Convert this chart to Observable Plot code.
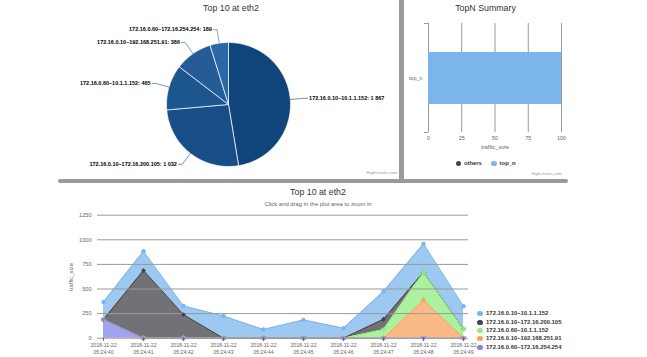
<!DOCTYPE html>
<html><head><meta charset="utf-8">
<script src="https://cdn.jsdelivr.net/npm/d3@7"></script>
<script src="https://cdn.jsdelivr.net/npm/@observablehq/plot@0.6"></script>
<style>
body{margin:0;background:#fff}
#root{position:relative;width:647px;height:357px;overflow:hidden;background:#fff;font-family:"Liberation Sans",Arial,sans-serif}
.abs{position:absolute;white-space:nowrap;line-height:1}
.bar{position:absolute;background:#9a9a9a}
.dot{display:inline-block;border-radius:50%;vertical-align:middle}
</style></head>
<body><div id="root"></div>
<script>
// ---------- data ----------
const seriesNames = ["172.16.0.10–10.1.1.152","172.16.0.10–172.16.200.105","172.16.0.60–10.1.1.152","172.16.0.10–192.168.251.91","172.16.0.60–172.16.254.254"];
const pieValues = [1867,1032,465,386,189];
const pieColors = ["#0f457b","#174e87","#1d558f","#235c98","#2b66a5"];
const seriesColors = ["#7cb5ec","#434348","#90ed7d","#f7a35c","#8085e9"];

const summaryCategories = ["top_n"];
const summaryValues = [100];
const summaryLegend = ["others","top_n"];
const summaryLegendColors = ["#434348","#7cb5ec"];
const summaryTicks = [0,25,50,75,100];

const times = ["2018-11-22 05:24:40","2018-11-22 05:24:41","2018-11-22 05:24:42","2018-11-22 05:24:43","2018-11-22 05:24:44","2018-11-22 05:24:45","2018-11-22 05:24:46","2018-11-22 05:24:47","2018-11-22 05:24:48","2018-11-22 05:24:49"];
const s1 = [180,195,88,225,88,186,102,283,288,232];
const s2 = [0,688,239,0,0,0,0,105,0,0];
const s3 = [0,0,0,0,0,0,0,87,285,93];
const s4 = [0,0,0,0,0,0,0,0,386,0];
const s5 = [189,0,0,0,0,0,0,0,0,0];
const yTicks = [0,250,500,750,1000,1250];

const pieTitle = "Top 10 at eth2";
const summaryTitle = "TopN Summary";
const areaTitle = "Top 10 at eth2";
const areaSubtitle = "Click and drag in the plot area to zoom in";
const axisTitle = "traffic_size";
const credits = "Highcharts.com";

// ---------- helpers ----------
const root = document.getElementById("root");
const FONT = '"Liberation Sans", Arial, sans-serif';
function addText(txt, x, y, {size=5.5, color="#333", weight="normal", anchor="middle", rotate=0}={}) {
  const el = document.createElement("div");
  el.className = "abs"; el.textContent = txt;
  Object.assign(el.style, {left: x+"px", top: y+"px", fontSize: size+"px", color, fontWeight: weight});
  const tx = anchor === "middle" ? "-50%" : anchor === "end" ? "-100%" : "0";
  el.style.transform = `translate(${tx},-50%)` + (rotate ? ` rotate(${rotate}deg)` : "");
  root.append(el);
  return el;
}
function place(svg, left, top) {
  svg.style.position = "absolute"; svg.style.left = left+"px"; svg.style.top = top+"px";
  svg.style.overflow = "visible"; svg.style.background = "transparent";
  root.append(svg);
}
function bar(l, t, w, h, r) {
  const d = document.createElement("div"); d.className = "bar";
  Object.assign(d.style, {left: l+"px", top: t+"px", width: w+"px", height: h+"px", borderRadius: (r||0)+"px"});
  root.append(d);
}
const fmtSep = v => d3.format(",")(v).replace(/,/g, " ");

// ---------- pie ----------
const pieData = seriesNames.map((name, i) => ({name, value: pieValues[i], color: pieColors[i]}));
const arcs = d3.pie().sort(null).value(d => d.value)(pieData);
const polys = arcs.map((a, k) => {
  const pts = [{k, x: 0, y: 0}];
  const n = Math.max(2, Math.ceil((a.endAngle - a.startAngle) / 0.02));
  for (let j = 0; j <= n; j++) {
    const t = a.startAngle + (a.endAngle - a.startAngle) * j / n;
    pts.push({k, x: Math.sin(t), y: Math.cos(t)});
  }
  pts.push({k, x: 0, y: 0});
  return pts;
});
const bendR = 1.22, ext = 0.06;
const conn = arcs.flatMap((a, k) => {
  const m = (a.startAngle + a.endAngle) / 2, s = Math.sin(m), c = Math.cos(m), side = s >= 0 ? 1 : -1;
  return [{k, x: s, y: c}, {k, x: s*bendR, y: c*bendR}, {k, x: s*bendR + side*ext, y: c*bendR}];
});
const labels = arcs.map((a, k) => {
  const m = (a.startAngle + a.endAngle) / 2, s = Math.sin(m), c = Math.cos(m), side = s >= 0 ? 1 : -1;
  return {k, x: s*bendR + side*ext, y: c*bendR, side, text: `${a.data.name}: ${fmtSep(a.data.value)}`};
});
const piePlot = Plot.plot({
  width: 397, height: 178, marginLeft: 166, marginRight: 107, marginTop: 42, marginBottom: 12,
  x: {domain: [-1, 1], axis: null}, y: {domain: [-1, 1], axis: null},
  style: {fontFamily: FONT, background: "transparent"},
  marks: [
    ...polys.map((p, k) => Plot.line(p, {x: "x", y: "y", fill: pieColors[k], stroke: "#fff", strokeWidth: 0.7, strokeLinejoin: "round"})),
    ...arcs.map((a, k) => Plot.line(conn.filter(d => d.k === k), {x: "x", y: "y", stroke: pieColors[k], strokeWidth: 0.6})),
    Plot.text(labels.filter(d => d.side > 0), {x: "x", y: "y", text: "text", textAnchor: "start", dx: 1.5, fontSize: 5.5, fontWeight: "bold", fill: "#000"}),
    Plot.text(labels.filter(d => d.side < 0), {x: "x", y: "y", text: "text", textAnchor: "end", dx: -1.5, fontSize: 5.5, fontWeight: "bold", fill: "#000"})
  ]
});
place(piePlot, 0, 0);
addText(pieTitle, 231, 7.5, {size: 8.8, color: "#333"});
addText(credits, 397, 173, {size: 4.4, color: "#999", anchor: "end"});

// ---------- TopN summary ----------
const summaryData = summaryCategories.map((category, i) => ({category, value: summaryValues[i]}));
const topPlot = Plot.plot({
  width: 175, height: 178, marginLeft: 25, marginRight: 17, marginTop: 23, marginBottom: 46,
  x: {domain: [0, 100]}, y: {domain: summaryCategories, padding: 0},
  style: {fontFamily: FONT, color: "#666", background: "transparent"},
  marks: [
    Plot.gridX(summaryTicks, {stroke: "#999", strokeOpacity: 1}),
    Plot.ruleY(summaryCategories, {x1: () => -3, x2: () => 0, dy: -54.5, stroke: "#999"}),
    Plot.ruleY(summaryCategories, {x1: () => -3, x2: () => 0, dy: 54.5, stroke: "#999"}),
    Plot.barX(summaryData, {x: "value", y: "category", fill: "#7cb5ec", insetTop: 29, insetBottom: 28}),
    Plot.axisX(summaryTicks, {tickSize: 0, tickPadding: 4, label: null, fontSize: 5.4}),
    Plot.axisY({tickSize: 0, tickPadding: 6, label: null, fontSize: 5.4})
  ]
});
place(topPlot, 403, 0);
addText(summaryTitle, 485.5, 7.5, {size: 8.8, color: "#333"});
addText(axisTitle, 495, 148, {size: 5.9, color: "#666"});
addText(credits, 562, 174, {size: 4.4, color: "#999", anchor: "end"});
{
  const lx = [458.3, 494];
  summaryLegend.forEach((name, i) => {
    const el = addText("", lx[i] - 2.6, 164, {size: 5.9, color: "#333", weight: "bold", anchor: "start"});
    el.innerHTML = `<span class="dot" style="width:5.2px;height:5.2px;background:${summaryLegendColors[i]};margin-right:3px"></span>${name}`;
  });
}

// ---------- area chart ----------
const allSeries = [s1, s2, s3, s4, s5];
const long = allSeries.flatMap((vals, si) => vals.map((value, ti) => ({series: seriesNames[si], time: times[ti], value})));
const stackOrder = seriesNames.slice().reverse();
const triangleDown = {draw(ctx, size) {
  const s = Math.sqrt(size * 4 / Math.sqrt(3));
  const h = s * Math.sqrt(3) / 2;
  ctx.moveTo(-s/2, -h/3); ctx.lineTo(s/2, -h/3); ctx.lineTo(0, 2*h/3); ctx.closePath();
}};
const areaPlot = Plot.plot({
  width: 480, height: 174, marginLeft: 97, marginRight: 12, marginTop: 31.7, marginBottom: 19.3,
  x: {type: "point", domain: times, padding: 0.1},
  y: {domain: [0, 1250]},
  color: {domain: seriesNames, range: seriesColors},
  symbol: {domain: seriesNames, range: ["circle", "diamond2", "square", "triangle", triangleDown]},
  style: {fontFamily: FONT, color: "#666", background: "transparent"},
  marks: [
    Plot.areaY(long, {x: "time", y: "value", z: "series", fill: "series", fillOpacity: 0.75, order: stackOrder}),
    Plot.lineY(long, Plot.stackY2({x: "time", y: "value", z: "series", stroke: "series", strokeWidth: 1, order: stackOrder})),
    Plot.gridY(yTicks, {stroke: "#999", strokeOpacity: 1}),
    Plot.dot(long, Plot.stackY2({x: "time", y: "value", z: "series", fill: "series", symbol: "series", r: 2.2, order: stackOrder})),
    Plot.axisX({tickSize: 3, tickPadding: 1, tickFormat: t => t.replace(" ", "\n"), fontSize: 5.2, lineHeight: 1.3, label: null}),
    Plot.axisY(yTicks, {tickSize: 0, tickPadding: 6, fontSize: 5.6, label: null, tickFormat: d => String(d)})
  ]
});
place(areaPlot, 0, 183);
addText(areaTitle, 318, 191.5, {size: 8.8, color: "#333"});
addText(areaSubtitle, 318, 205, {size: 5.9, color: "#666"});
addText(axisTitle, 72, 277, {size: 5.9, color: "#666", rotate: -90});
{
  const ly = [314, 322.7, 330.9, 339.3, 347.7];
  seriesNames.forEach((name, i) => {
    const el = addText("", 477.4, ly[i], {size: 5.9, color: "#333", weight: "bold", anchor: "start"});
    el.innerHTML = `<span class="dot" style="width:5.2px;height:5.2px;background:${seriesColors[i]};margin-right:3.5px"></span>${name}`;
  });
}

// ---------- panel separators ----------
bar(399, 0, 4.6, 183);
bar(58, 178.8, 510, 4.5, 2.2);
</script>
</body></html>
